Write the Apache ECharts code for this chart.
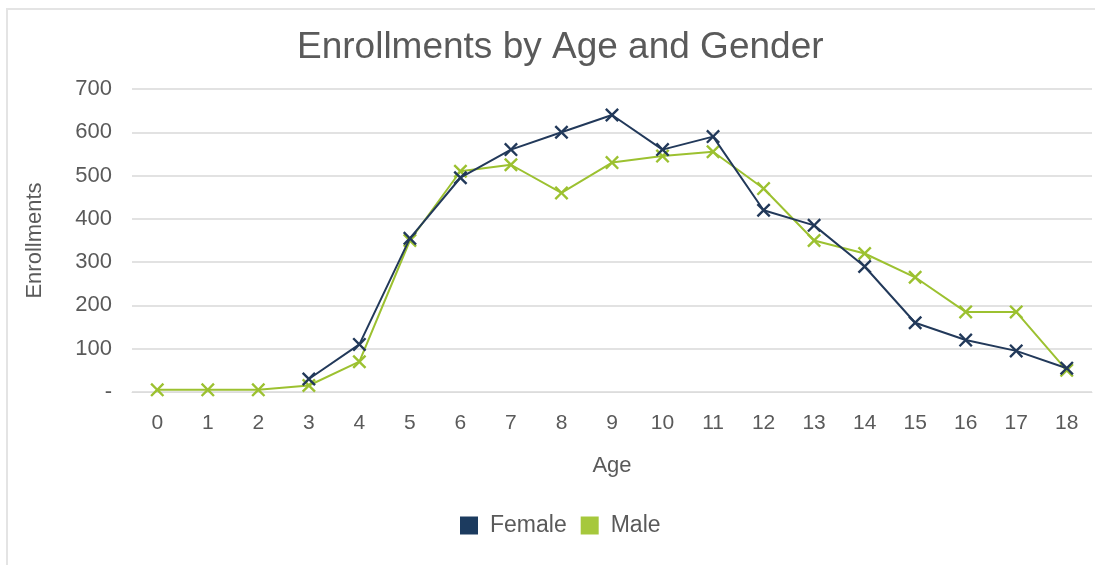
<!DOCTYPE html>
<html>
<head>
<meta charset="utf-8">
<style>
  html, body { margin: 0; padding: 0; background: #ffffff; }
  #frame {
    position: absolute; left: 6px; top: 8px; width: 1089px; height: 557px;
    border-top: 2px solid #e4e4e4; border-left: 2px solid #e4e4e4; box-sizing: border-box;
  }
  #chart { position: absolute; left: 0; top: 0; width: 1095px; height: 565px; }
</style>
<script src="https://cdn.jsdelivr.net/npm/echarts@6/dist/echarts.min.js"></script>
</head>
<body>
<div id="frame"></div>
<div id="chart"></div>
<script>
// Ages on the horizontal axis
const ages = ['0', '1', '2', '3', '4', '5', '6', '7', '8', '9', '10', '11', '12', '13', '14', '15', '16', '17', '18'];
// Enrollment counts per age
const female = [null, null, null, 30, 110, 355, 495, 560, 600, 640, 560, 590, 420, 385, 290, 160, 120, 95, 55];
const male = [5, 5, 5, 15, 70, 350, 510, 525, 460, 530, 545, 555, 470, 350, 320, 265, 185, 185, 50];

const FEMALE_COLOR = '#22395a';
const MALE_COLOR = '#9cc130';
const TEXT = '#5a5a5a';
const FONT = 'Liberation Sans, Arial, sans-serif';
const CROSS = 'path://M0,1.2 L1.2,0 L5,3.8 L8.8,0 L10,1.2 L6.2,5 L10,8.8 L8.8,10 L5,6.2 L1.2,10 L0,8.8 L3.8,5 Z';

const chart = echarts.init(document.getElementById('chart'));
chart.setOption({
  animation: false,
  backgroundColor: 'transparent',
  textStyle: { fontFamily: FONT },
  title: {
    text: 'Enrollments by Age and Gender',
    left: 292, top: 24,
    textStyle: { fontFamily: FONT, fontSize: 37, fontWeight: 'normal', color: TEXT }
  },
  legend: {
    bottom: 23, left: 455,
    itemWidth: 18, itemHeight: 18, itemGap: 14,
    icon: 'rect',
    textStyle: { fontFamily: FONT, fontSize: 23, color: TEXT, padding: [0, 0, 0, 7] },
    data: [
      { name: 'Female', itemStyle: { color: '#1c3b5f' } },
      { name: 'Male', itemStyle: { color: '#a6c83c' } }
    ]
  },
  grid: { left: 132, right: 3, top: 89, bottom: 173 },
  xAxis: {
    type: 'category',
    data: ages,
    boundaryGap: true,
    name: 'Age', nameLocation: 'middle', nameGap: 63,
    nameTextStyle: { fontFamily: FONT, fontSize: 22, color: TEXT },
    axisLine: { lineStyle: { color: '#dcdcdc', width: 1 } },
    axisTick: { show: false },
    axisLabel: { fontFamily: FONT, fontSize: 21, color: TEXT, margin: 21 }
  },
  yAxis: {
    type: 'value',
    min: 0, max: 700, interval: 100,
    name: 'Enrollments', nameLocation: 'middle', nameGap: 86, nameRotate: 90,
    nameTextStyle: { fontFamily: FONT, fontSize: 22, color: TEXT },
    axisLine: { show: false },
    axisTick: { show: false },
    axisLabel: {
      fontFamily: FONT, fontSize: 22, color: TEXT, margin: 20,
      formatter: v => (v === 0 ? '-' : String(v))
    },
    splitLine: { lineStyle: { color: '#e2e2e2', width: 2 } }
  },
  series: [
    {
      name: 'Female', type: 'line', data: female,
      color: FEMALE_COLOR,
      symbol: CROSS, symbolSize: 14, showAllSymbol: true,
      lineStyle: { color: FEMALE_COLOR, width: 2 },
      itemStyle: { color: FEMALE_COLOR },
      z: 3
    },
    {
      name: 'Male', type: 'line', data: male,
      color: MALE_COLOR,
      symbol: CROSS, symbolSize: 14, showAllSymbol: true,
      lineStyle: { color: MALE_COLOR, width: 2 },
      itemStyle: { color: MALE_COLOR },
      z: 2
    }
  ]
});
</script>
</body>
</html>
